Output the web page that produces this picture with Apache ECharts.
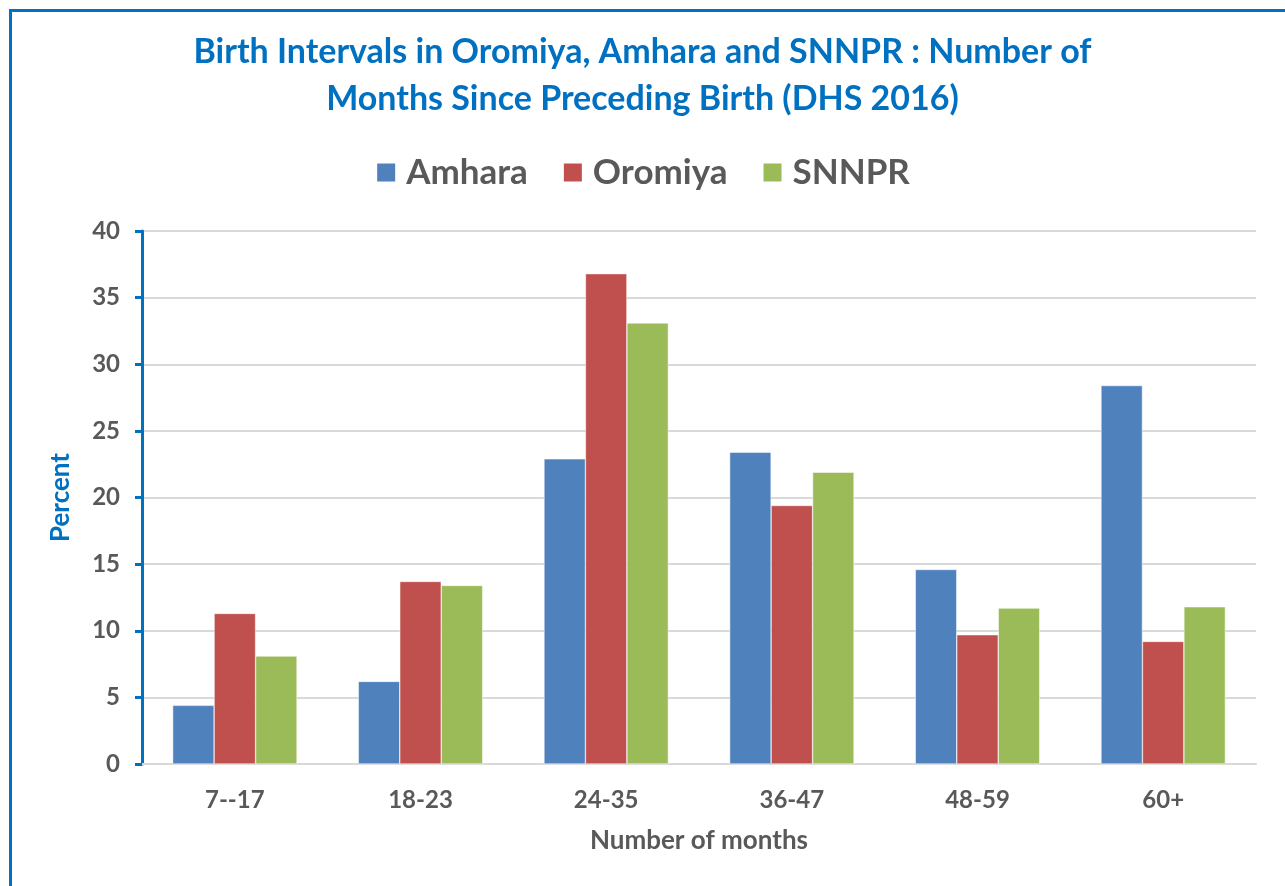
<!DOCTYPE html>
<html>
<head>
<meta charset="utf-8">
<script src="https://cdn.jsdelivr.net/npm/echarts@6/dist/echarts.min.js"></script>
<style>
  html, body { margin: 0; padding: 0; background: #fff; }
  #frame { position: absolute; left: 9px; top: 9px; width: 1290px; height: 890px;
           border-left: 3px solid #0070C0; border-top: 3px solid #0070C0; }
  #chart { position: absolute; left: 0; top: 0; width: 1285px; height: 886px; }
</style>
</head>
<body>
<div id="frame"></div>
<div id="chart"></div>
<script>
// categories and values
var categories = ['7--17', '18-23', '24-35', '36-47', '48-59', '60+'];
var amhara  = [4.4, 6.2, 22.9, 23.4, 14.6, 28.4];
var oromiya = [11.3, 13.7, 36.8, 19.4, 9.7, 9.2];
var snnpr   = [8.1, 13.4, 33.1, 21.9, 11.7, 11.8];

var font = 'Lato';
var grey = '#595959';
var blue = '#0070C0';

var myChart = echarts.init(document.getElementById('chart'));

function bar(name, data, color) {
    return {
        name: name,
        type: 'bar',
        data: data,
        barGap: '0%',
        barCategoryGap: '33%',
        itemStyle: { color: color, borderColor: '#ffffff', borderWidth: 0.5 }
    };
}

var option = {
    animation: false,
    title: {
        text: 'Birth Intervals in Oromiya, Amhara and SNNPR : Number of\nMonths Since Preceding Birth (DHS 2016)',
        left: 'center',
        top: 24,
        textStyle: { color: blue, fontFamily: font, fontWeight: 'bold', fontSize: 34, lineHeight: 47 }
    },
    legend: {
        top: 150,
        left: 'center',
        itemWidth: 20,
        itemHeight: 20,
        itemGap: 34,
        icon: 'rect',
        textStyle: { color: grey, fontFamily: font, fontWeight: 'bold', fontSize: 35, padding: [0, 0, 0, 5] },
        data: ['Amhara', 'Oromiya', 'SNNPR']
    },
    grid: { left: 142, right: 29, top: 231, bottom: 122 },
    xAxis: {
        type: 'category',
        data: categories,
        name: 'Number of months',
        nameLocation: 'middle',
        nameGap: 64,
        nameTextStyle: { color: grey, fontFamily: font, fontWeight: 'bold', fontSize: 26 },
        axisLine: { lineStyle: { color: '#d9d9d9', width: 2 } },
        axisTick: { show: false },
        axisLabel: { color: grey, fontFamily: font, fontWeight: 'bold', fontSize: 24, margin: 24 }
    },
    yAxis: {
        type: 'value',
        min: 0,
        max: 40,
        interval: 5,
        name: 'Percent',
        nameLocation: 'middle',
        nameGap: 68,
        nameRotate: 90,
        nameTextStyle: { color: blue, fontFamily: font, fontWeight: 'bold', fontSize: 26 },
        axisLine: { show: true, lineStyle: { color: blue, width: 3 } },
        axisTick: { show: true, length: 7, lineStyle: { color: blue, width: 3 } },
        axisLabel: { color: grey, fontFamily: font, fontWeight: 'bold', fontSize: 24, margin: 22 },
        splitLine: { lineStyle: { color: '#d9d9d9', width: 2 } }
    },
    series: [
        bar('Amhara', amhara, '#4F81BD'),
        bar('Oromiya', oromiya, '#C0504D'),
        bar('SNNPR', snnpr, '#9BBB59')
    ]
};

myChart.setOption(option);
</script>
</body>
</html>
